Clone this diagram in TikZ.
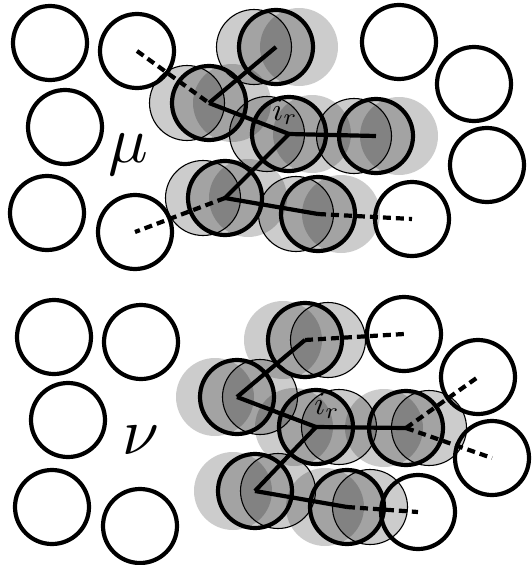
\documentclass[tikz,border=0pt]{standalone}
\begin{document}
\begin{tikzpicture}[x=1pt,y=-1pt,
  site/.style={circle, minimum size=74pt, inner sep=0pt, line width=4.2pt, draw=black},
  cur/.style={site, fill=black, fill opacity=0.2},
  ghostthin/.style={circle, minimum size=75pt, inner sep=0pt, line width=1.1pt, draw=black, fill=black, fill opacity=0.2},
  ghostdisc/.style={circle, minimum size=78pt, inner sep=0pt, fill=black, fill opacity=0.2},
  bond/.style={line width=4.2pt},
  link/.style={line width=4.2pt, dash pattern=on 8pt off 5pt},
  lbl/.style={inner sep=0pt}]
\useasboundingbox (0,0) rectangle (532,565);
\newcommand\molgrp[5]{%
  \node[ghostdisc] (#1d) at (#2+#5,#3) {};
  \node[ghostthin] (#1t) at (#2+#4,#3) {};
  \node[cur] (#1) at (#2,#3) {};}
% ---------- top panel (mu) ----------
\molgrp{A}{276}{47}{-22}{23}
\molgrp{B}{209}{103}{-22}{23}
\molgrp{C}{289}{134}{-22}{23}
\molgrp{D}{376}{136}{-22}{23}
\molgrp{E}{225}{198}{-22}{23}
\molgrp{F}{318}{214}{-22}{23}
\node[site] (w1) at (50,43) {};
\node[site] (w2) at (137,51) {};
\node[site] (w3) at (65,127) {};
\node[site] (w4) at (47,213) {};
\node[site] (w5) at (135,232) {};
\node[site] (w6) at (399,42) {};
\node[site] (w7) at (474,84) {};
\node[site] (w8) at (487,165) {};
\node[site] (w9) at (412,219) {};
\draw[link] (w2.center) -- (B.center);
\draw[bond] (B.center) -- (A.center);
\draw[bond] (B.center) -- (C.center);
\draw[bond] (C.center) -- (D.center);
\draw[bond] (C.center) -- (E.center);
\draw[bond] (E.center) -- (F.center);
\draw[link] (E.center) -- (w5.center);
\draw[link] (F.center) -- (w9.center);
\node[lbl, scale=6.6] (mu) at (128,155) {$\mu$};
\node[lbl, scale=3.2] (ir1) at (285,112) {$i_r$};
% ---------- bottom panel (nu) ----------
\molgrp{G}{305}{340}{23}{-22}
\molgrp{H}{237}{397}{23}{-22}
\molgrp{I}{316}{427}{23}{-22}
\molgrp{J}{406}{428}{23}{-22}
\molgrp{K}{255}{491}{23}{-22}
\molgrp{L}{347}{507}{23}{-22}
\node[site] (v1) at (54,337) {};
\node[site] (v2) at (141,342) {};
\node[site] (v3) at (68,420) {};
\node[site] (v4) at (52,507) {};
\node[site] (v5) at (140,526) {};
\node[site] (v6) at (404,334) {};
\node[site] (v7) at (478,377) {};
\node[site] (v8) at (492,458) {};
\node[site] (v9) at (418,512) {};
\draw[bond] (H.center) -- (G.center);
\draw[bond] (H.center) -- (I.center);
\draw[bond] (I.center) -- (J.center);
\draw[bond] (I.center) -- (K.center);
\draw[bond] (K.center) -- (L.center);
\draw[link] (G.center) -- (v6.center);
\draw[link] (J.center) -- (v7.center);
\draw[link] (J.center) -- (v8.center);
\draw[link] (L.center) -- (v9.center);
\node[lbl, scale=6.6] (nu) at (141,440) {$\nu$};
\node[lbl, scale=3.2] (ir2) at (327,406) {$i_r$};
\end{tikzpicture}
\end{document}
